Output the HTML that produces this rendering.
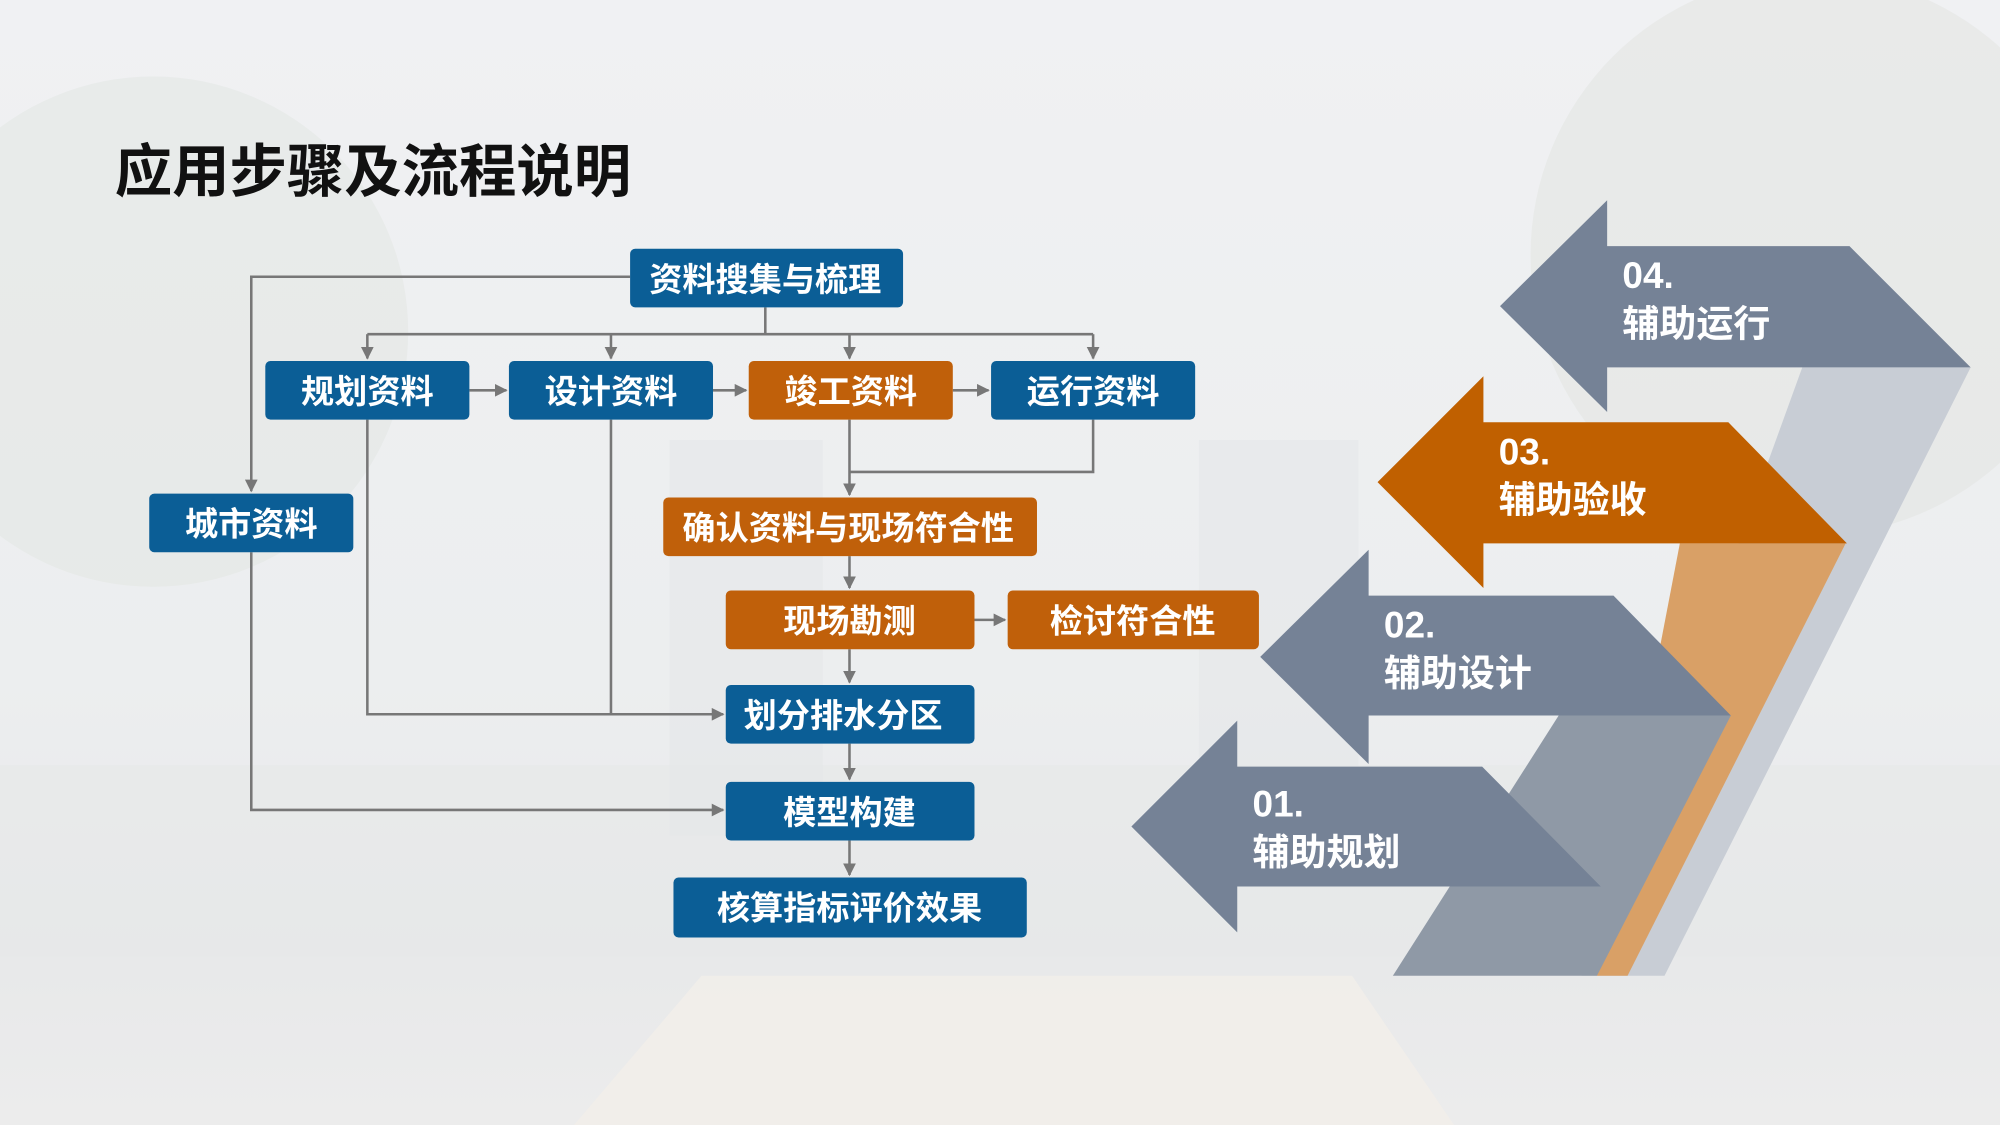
<!DOCTYPE html>
<html><head><meta charset="utf-8"><style>
html,body{margin:0;padding:0;width:2000px;height:1125px;overflow:hidden;}
svg{display:block}
text{font-family:"Liberation Sans","Noto Sans CJK SC",sans-serif;font-weight:bold}
</style></head><body>
<svg width="2000" height="1125" viewBox="0 0 1568 882" xmlns="http://www.w3.org/2000/svg">
<defs>
<linearGradient id="bg" x1="0" y1="0" x2="0" y2="1">
<stop offset="0" stop-color="#f0f1f3"/><stop offset="0.6" stop-color="#eceeef"/><stop offset="0.86" stop-color="#e8e9ea"/><stop offset="1" stop-color="#ececec"/>
</linearGradient>
<marker id="ah" viewBox="0 0 10 10" refX="9" refY="5" markerWidth="5" markerHeight="5" orient="auto"><path d="M0,0 L10,5 L0,10 z" fill="#777"/></marker>
</defs>
<rect width="1568" height="882" fill="url(#bg)"/>
<!-- faint background shapes -->
<ellipse cx="120" cy="260" rx="200" ry="200" fill="#e2e5e2" opacity="0.5"/>
<ellipse cx="1420" cy="200" rx="220" ry="220" fill="#e1e3df" opacity="0.5"/>
<rect x="525" y="345" width="120" height="310" fill="#e3e5e8" opacity="0.5"/>
<rect x="940" y="345" width="125" height="260" fill="#e3e5e8" opacity="0.5"/>
<rect x="0" y="600" width="1568" height="150" fill="#e5e7e7" opacity="0.5"/>
<polygon points="550,765 1060,765 1140,882 450,882" fill="#f4f0ea" opacity="0.7"/>

<text x="90" y="150" font-size="45" fill="#111">应用步骤及流程说明</text>

<!-- connectors -->
<g stroke="#777" stroke-width="2" fill="none">
<polyline points="494,217 197,217 197,385" marker-end="url(#ah)"/>
<polyline points="197,433 197,635 567,635" marker-end="url(#ah)"/>
<line x1="600" y1="241" x2="600" y2="262"/>
<line x1="288" y1="262" x2="857" y2="262"/>
<line x1="288" y1="262" x2="288" y2="281" marker-end="url(#ah)"/>
<line x1="479" y1="262" x2="479" y2="281" marker-end="url(#ah)"/>
<line x1="666" y1="262" x2="666" y2="281" marker-end="url(#ah)"/>
<line x1="857" y1="262" x2="857" y2="281" marker-end="url(#ah)"/>
<line x1="368" y1="306" x2="397" y2="306" marker-end="url(#ah)"/>
<line x1="559" y1="306" x2="585" y2="306" marker-end="url(#ah)"/>
<line x1="747" y1="306" x2="775" y2="306" marker-end="url(#ah)"/>
<polyline points="288,329 288,560 567,560" marker-end="url(#ah)"/>
<line x1="479" y1="329" x2="479" y2="560"/>
<line x1="666" y1="329" x2="666" y2="388" marker-end="url(#ah)"/>
<polyline points="857,329 857,370 666,370"/>
<line x1="666" y1="436" x2="666" y2="461" marker-end="url(#ah)"/>
<line x1="764" y1="486" x2="788" y2="486" marker-end="url(#ah)"/>
<line x1="666" y1="509" x2="666" y2="535" marker-end="url(#ah)"/>
<line x1="666" y1="583" x2="666" y2="611" marker-end="url(#ah)"/>
<line x1="666" y1="659" x2="666" y2="686" marker-end="url(#ah)"/>
</g>

<!-- boxes -->
<g font-size="26" fill="#fff" text-anchor="middle">
<rect x="494" y="195" width="214" height="46" rx="4" fill="#0b5e96"/><text x="600" y="228">资料搜集与梳理</text>
<rect x="208" y="283" width="160" height="46" rx="4" fill="#0b5e96"/><text x="288" y="316">规划资料</text>
<rect x="399" y="283" width="160" height="46" rx="4" fill="#0b5e96"/><text x="479" y="316">设计资料</text>
<rect x="587" y="283" width="160" height="46" rx="4" fill="#c0600a"/><text x="667" y="316">竣工资料</text>
<rect x="777" y="283" width="160" height="46" rx="4" fill="#0b5e96"/><text x="857" y="316">运行资料</text>
<rect x="117" y="387" width="160" height="46" rx="4" fill="#0b5e96"/><text x="197" y="420">城市资料</text>
<rect x="520" y="390" width="293" height="46" rx="4" fill="#c0600a"/><text x="665" y="423">确认资料与现场符合性</text>
<rect x="569" y="463" width="195" height="46" rx="4" fill="#c0600a"/><text x="666" y="496">现场勘测</text>
<rect x="790" y="463" width="197" height="46" rx="4" fill="#c0600a"/><text x="888" y="496">检讨符合性</text>
<rect x="569" y="537" width="195" height="46" rx="4" fill="#0b5e96"/><text x="661" y="570">划分排水分区</text>
<rect x="569" y="613" width="195" height="46" rx="4" fill="#0b5e96"/><text x="666" y="646">模型构建</text>
<rect x="528" y="688" width="277" height="47" rx="4" fill="#0b5e96"/><text x="666" y="721">核算指标评价效果</text>
</g>

<!-- ribbons -->
<polygon points="1413,288 1545,288 1305,765 1240,765" fill="#c8cdd5"/>
<polygon points="1317,426 1447,426 1276,765 1252,765" fill="#d9a066"/>
<polygon points="1222,561 1357,561 1252,765 1092,765" fill="#8f99a6"/>

<!-- chevrons -->
<polygon points="1176,240 1260,157 1260,193 1450,193 1545,288 1260,288 1260,323" fill="#758296"/>
<polygon points="1080,378 1163,295 1163,331 1355,331 1448,426 1163,426 1163,461" fill="#c06000"/>
<polygon points="988,515 1073,431 1073,467 1265,467 1357,561 1073,561 1073,599" fill="#758296"/>
<polygon points="887,648 970,565 970,601 1162,601 1255,695 970,695 970,731" fill="#758296"/>

<g font-size="29" fill="#fff">
<text x="1272" y="226">04.</text><text x="1272" y="264">辅助运行</text>
<text x="1175" y="364">03.</text><text x="1175" y="402">辅助验收</text>
<text x="1085" y="500">02.</text><text x="1085" y="538">辅助设计</text>
<text x="982" y="640">01.</text><text x="982" y="678">辅助规划</text>
</g>
</svg>
</body></html>
